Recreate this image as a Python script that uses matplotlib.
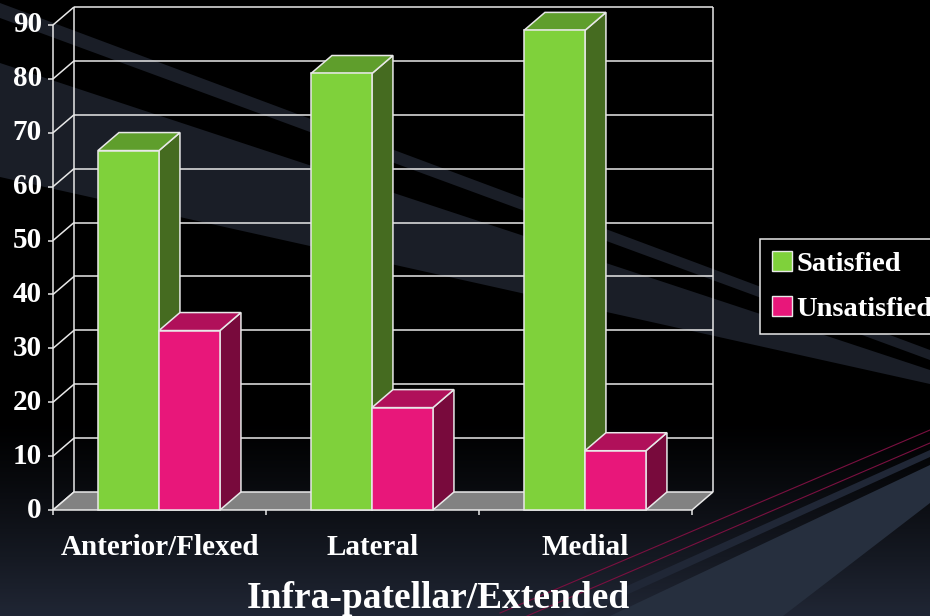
import numpy as np
import matplotlib
matplotlib.use('Agg')
import matplotlib.pyplot as plt
from matplotlib.patches import Polygon, Patch
from matplotlib.colors import LinearSegmentedColormap

categories = ['Anterior/Flexed', 'Lateral', 'Medial']
satisfied = [66.7, 81, 89]   # percent of patients
unsatisfied = [33.3, 19, 11]
yticks = [0, 10, 20, 30, 40, 50, 60, 70, 80, 90]
series_names = ['Satisfied', 'Unsatisfied']

# front / top / side shades for the 3d boxes
green = ('#7fd13b', '#5f9e2c', '#456b20')
pink = ('#e8177a', '#b0105a', '#780a3c')
edge = '#e8e8e8'
font = 'Liberation Serif'

fig = plt.figure(figsize=(9.3, 6.16), dpi=100)
fig.patch.set_facecolor('black')

# slide background: dark gradient plus a few diagonal streaks
bg = fig.add_axes([0, 0, 1, 1])
bg.set_xlim(0, 930)
bg.set_ylim(616, 0)
bg.axis('off')
grad = np.linspace(0, 1, 300)
grad = np.clip((grad - 0.68) / 0.32, 0, 1) ** 1.2
cmap = LinearSegmentedColormap.from_list('slide', ['#000000', '#202634'])
bg.imshow(grad[:, None], aspect='auto', cmap=cmap, extent=[0, 930, 616, 0], zorder=0)
streak = '#1a1e27'
bg.add_patch(Polygon([(0, 3), (930, 350), (930, 360), (0, 18)], color=streak, lw=0, zorder=1))
bg.add_patch(Polygon([(0, 63), (930, 370), (930, 384), (0, 177)], color=streak, lw=0, zorder=1))
bg.add_patch(Polygon([(560, 616), (930, 450), (930, 457), (580, 616)], color='#202736', lw=0, zorder=1))
bg.add_patch(Polygon([(610, 616), (930, 465), (930, 503), (783, 616)], color='#262f3e', lw=0, zorder=1))
bg.plot([500, 930], [613, 430], color='#7a1040', lw=0.8, zorder=2)
bg.plot([527, 930], [616, 443], color='#7a1040', lw=0.8, zorder=2)

ax = fig.add_axes([53 / 930, 1 - 510 / 616, 639 / 930, 485 / 616])
ax.set_xlim(0, 3)
ax.set_ylim(0, 90)
ax.axis('off')
ax.patch.set_alpha(0)

dx, dy = 0.0986, 3.34        # depth of the box in data units
gap, w = 0.211, 0.2864       # gap at category edge, bar width
n = len(categories)
lw = 1.1

def line(xs, ys, z=2):
    ax.plot(xs, ys, color=edge, lw=lw, clip_on=False, zorder=z, solid_capstyle='butt')

# walls and gridlines
for v in yticks[1:]:
    line([dx, n + dx], [v + dy, v + dy])
for v in yticks:
    line([0, dx], [v, v + dy])
    line([-0.024, 0], [v, v])
    ax.text(-0.052, v, str(v), ha='right', va='center', color='white',
            fontsize=21, fontweight='bold', family=font)
line([dx, dx], [dy, 90 + dy])
line([n + dx, n + dx], [dy, 90 + dy])
line([0, 0], [0, 90])

# floor
ax.add_patch(Polygon([(0, 0), (n, 0), (n + dx, dy), (dx, dy)], closed=True,
                     facecolor='#828282', edgecolor=edge, lw=lw, clip_on=False, zorder=3))
for i in range(n + 1):
    line([i, i], [0, -0.95], z=3)

def box(x0, h, shades):
    front, top, side = shades
    kw = dict(closed=True, edgecolor=edge, lw=lw, clip_on=False, zorder=4, joinstyle='miter')
    ax.add_patch(Polygon([(x0 + w, 0), (x0 + w + dx, dy), (x0 + w + dx, h + dy), (x0 + w, h)],
                         facecolor=side, **kw))
    ax.add_patch(Polygon([(x0, h), (x0 + w, h), (x0 + w + dx, h + dy), (x0 + dx, h + dy)],
                         facecolor=top, **kw))
    ax.add_patch(Polygon([(x0, 0), (x0 + w, 0), (x0 + w, h), (x0, h)],
                         facecolor=front, **kw))

for i in range(n):
    box(i + gap, satisfied[i], green)
    box(i + gap + w, unsatisfied[i], pink)
    ax.text(i + 0.5, -7.05, categories[i], ha='center', va='center', color='white',
            fontsize=21, fontweight='bold', family=font)

fig.text(438 / 930, 1 - 598 / 616, 'Infra-patellar/Extended', ha='center', va='center',
         color='white', fontsize=27, fontweight='bold', family=font)

handles = [Patch(facecolor=green[0], edgecolor=edge), Patch(facecolor=pink[0], edgecolor=edge)]
leg = fig.legend(handles, series_names, loc='upper left', bbox_to_anchor=(760 / 930, 1 - 239 / 616),
                 borderaxespad=0, frameon=True, fancybox=False, facecolor='black', edgecolor=edge,
                 framealpha=1, handlelength=0.7, handleheight=0.7, handletextpad=0.15,
                 labelspacing=0.68, borderpad=0.42,
                 prop={'family': font, 'weight': 'bold', 'size': 20.5})
leg.get_frame().set_linewidth(1.1)
for t in leg.get_texts():
    t.set_color('white')

fig.savefig('out.png', dpi=100, facecolor=fig.get_facecolor())
